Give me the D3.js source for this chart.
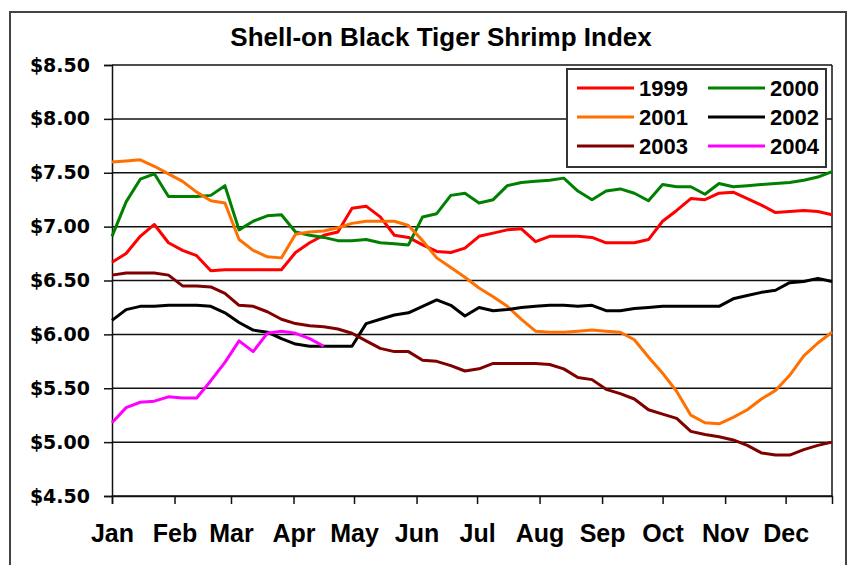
<!DOCTYPE html>
<html><head><meta charset="utf-8">
<script src="https://cdn.jsdelivr.net/npm/d3@7"></script>
<style>body{margin:0;background:#fff}svg{display:block}</style>
</head><body><svg id="c" width="853" height="565"></svg>
<script>
const title = "Shell-on Black Tiger Shrimp Index";
const months = ["Jan","Feb","Mar","Apr","May","Jun","Jul","Aug","Sep","Oct","Nov","Dec"];
const monthStartDays = [0,31,59,90,120,151,181,212,243,273,304,334];
const yTicks = [4.5,5,5.5,6,6.5,7,7.5,8,8.5];
const years = ["1999","2000","2001","2002","2003","2004"];
const colors = ["#ff0000","#008000","#ff7000","#000000","#800000","#ff00ff"];
// weekly index values ($/lb), one value per week starting Jan 1
const v1999 = [6.67,6.75,6.91,7.02,6.85,6.78,6.73,6.59,6.60,6.60, 6.60,6.60,6.60,6.76,6.85,6.92,6.95,7.17,7.19,7.09, 6.92,6.90,6.83,6.77,6.76,6.80,6.91,6.94,6.97,6.98, 6.86,6.91,6.91,6.91,6.90,6.85,6.85,6.85,6.88,7.05, 7.15,7.26,7.25,7.31,7.32,7.26,7.20,7.13,7.14,7.15, 7.14,7.11];
const v2000 = [6.91,7.23,7.44,7.49,7.28,7.28,7.28,7.29,7.38,6.97, 7.05,7.10,7.11,6.95,6.92,6.90,6.87,6.87,6.88,6.85, 6.84,6.83,7.09,7.12,7.29,7.31,7.22,7.25,7.38,7.41, 7.42,7.43,7.45,7.33,7.25,7.33,7.35,7.31,7.24,7.39, 7.37,7.37,7.30,7.40,7.37,7.38,7.39,7.40,7.41,7.43, 7.46,7.51];
const v2001 = [7.60,7.61,7.62,7.56,7.49,7.42,7.32,7.24,7.22,6.88, 6.78,6.72,6.71,6.93,6.95,6.96,6.99,7.03,7.05,7.05, 7.05,7.01,6.87,6.71,6.62,6.53,6.43,6.35,6.26,6.14, 6.03,6.02,6.02,6.03,6.04,6.03,6.02,5.95,5.79,5.64, 5.47,5.25,5.18,5.17,5.23,5.30,5.40,5.48,5.62,5.80, 5.92,6.02];
const v2002 = [6.13,6.23,6.26,6.26,6.27,6.27,6.27,6.26,6.20,6.11, 6.04,6.02,5.96,5.91,5.89,5.89,5.89,5.89,6.10,6.14, 6.18,6.20,6.26,6.32,6.27,6.17,6.25,6.22,6.23,6.25, 6.26,6.27,6.27,6.26,6.27,6.22,6.22,6.24,6.25,6.26, 6.26,6.26,6.26,6.26,6.33,6.36,6.39,6.41,6.48,6.49, 6.52,6.49];
const v2003 = [6.55,6.57,6.57,6.57,6.55,6.45,6.45,6.44,6.38,6.27, 6.26,6.21,6.14,6.10,6.08,6.07,6.05,6.01,5.94,5.87, 5.84,5.84,5.76,5.75,5.71,5.66,5.68,5.73,5.73,5.73, 5.73,5.72,5.68,5.60,5.58,5.49,5.45,5.40,5.30,5.26, 5.22,5.10,5.07,5.05,5.02,4.97,4.90,4.88,4.88,4.93, 4.97,5.00];
const v2004 = [5.18,5.32,5.37,5.38,5.42,5.41,5.41,5.57,5.74,5.94, 5.84,6.01,6.03,6.01,5.96,5.89];
const seriesValues = [v1999,v2000,v2001,v2002,v2003,v2004];

const svg = d3.select("#c");
const L = 112, R = 832, T = 65, B = 496;
const x = d3.scaleLinear().domain([0, 357]).range([L, R]);
const y = d3.scaleLinear().domain([4.5, 8.5]).range([B, T]);

// outer frame
svg.append("rect").attr("x",10).attr("y",12).attr("width",836).attr("height",600)
  .attr("fill","#fff").attr("stroke","#444").attr("stroke-width",2);

// title
svg.append("text").attr("x",441).attr("y",46).attr("text-anchor","middle")
  .attr("font-family","'Liberation Sans',Arial,sans-serif").attr("font-weight","bold")
  .attr("font-size",26).attr("fill","#000").text(title);

// gridlines
svg.append("g").selectAll("line").data(yTicks).join("line")
  .attr("x1",L).attr("x2",R).attr("y1",d=>y(d)).attr("y2",d=>y(d))
  .attr("stroke","#111").attr("stroke-width",1.5);
// right border
svg.append("line").attr("x1",R).attr("x2",R).attr("y1",T).attr("y2",B)
  .attr("stroke","#111").attr("stroke-width",1.5);

// y axis
const yAxis = svg.append("g").attr("transform",`translate(${L},0)`)
  .call(d3.axisLeft(y).tickValues(yTicks).tickSize(8).tickPadding(14)
        .tickFormat(d=>"$"+d3.format(".2f")(d)));
yAxis.select(".domain").attr("stroke","#111").attr("stroke-width",1.5);
yAxis.selectAll(".tick line").attr("stroke","#111").attr("stroke-width",1.5);
yAxis.selectAll(".tick text").attr("font-family","'DejaVu Sans',Verdana,sans-serif")
  .attr("font-weight","bold").attr("font-size",19).attr("fill","#000");

// x axis
const xAxis = svg.append("g").attr("transform",`translate(0,${B})`)
  .call(d3.axisBottom(x).tickValues(monthStartDays).tickSize(8).tickPadding(20)
        .tickFormat((d,i)=>months[i]));
xAxis.select(".domain").attr("stroke","#111").attr("stroke-width",1.5);
xAxis.selectAll(".tick line").attr("stroke","#111").attr("stroke-width",1.5);
xAxis.selectAll(".tick text").attr("font-family","'Liberation Sans',Arial,sans-serif")
  .attr("font-weight","bold").attr("font-size",25).attr("fill","#000");

// lines
const line = d3.line().x((d,i)=>x(i*7)).y(d=>y(d));
svg.append("g").selectAll("path").data(seriesValues).join("path")
  .attr("d",d=>line(d)).attr("fill","none")
  .attr("stroke",(d,i)=>colors[i]).attr("stroke-width",3)
  .attr("stroke-linejoin","round").attr("stroke-linecap","butt");

// legend
const lg = svg.append("g");
lg.append("rect").attr("x",567).attr("y",69).attr("width",259).attr("height",98)
  .attr("fill","#fff").attr("stroke","#333").attr("stroke-width",2);
const rowY = [88,117,146], colX = [577,708];
years.forEach((yr,i)=>{
  const cx = colX[i%2], cy = rowY[Math.floor(i/2)];
  lg.append("line").attr("x1",cx).attr("x2",cx+57).attr("y1",cy).attr("y2",cy)
    .attr("stroke",colors[i]).attr("stroke-width",3);
  lg.append("text").attr("x",cx+62).attr("y",cy+8)
    .attr("font-family","'Liberation Sans',Arial,sans-serif").attr("font-weight","bold")
    .attr("font-size",22).attr("fill","#000").text(yr);
});
</script></body></html>
